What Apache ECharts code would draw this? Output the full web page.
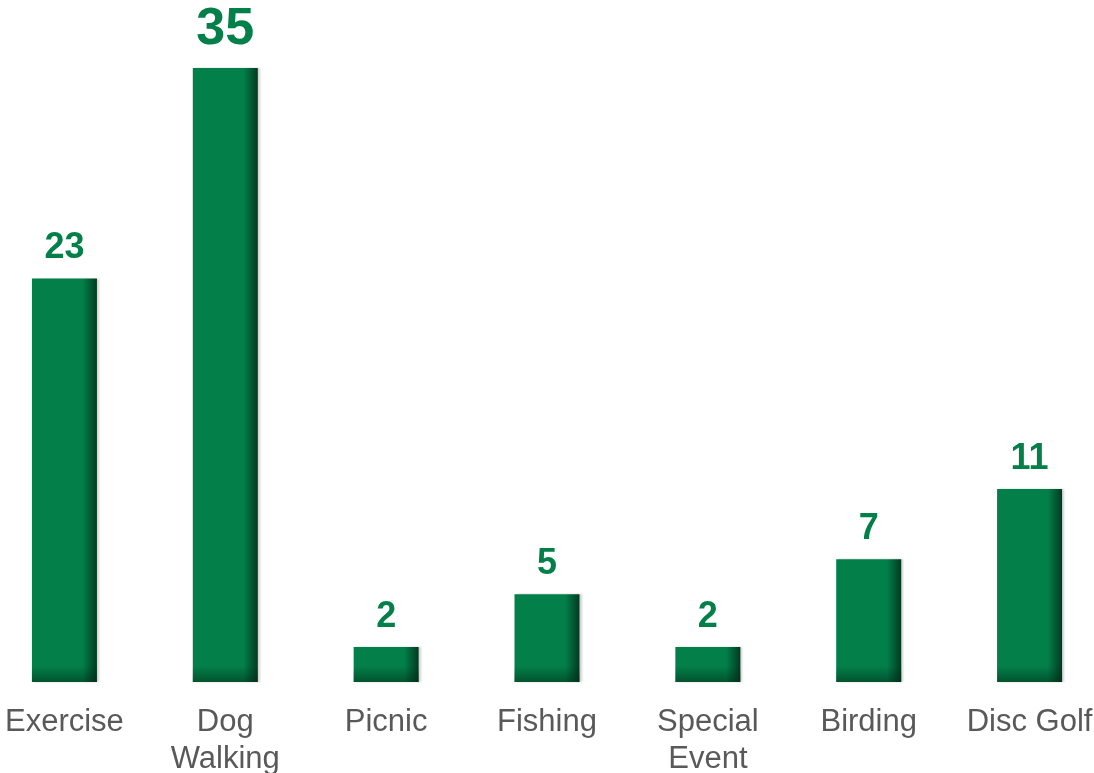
<!DOCTYPE html>
<html>
<head>
<meta charset="utf-8">
<script src="https://cdn.jsdelivr.net/npm/echarts@6/dist/echarts.min.js"></script>
<style>
  html, body { margin: 0; padding: 0; background: #fff; }
  #chart { width: 1094px; height: 773px; }
</style>
</head>
<body>
<div id="chart"></div>
<script>
// Activity categories and their counts
const categories = ['Exercise', 'Dog\nWalking', 'Picnic', 'Fishing', 'Special\nEvent', 'Birding', 'Disc Golf'];
const counts = [23, 35, 2, 5, 2, 7, 11];

const GREEN = '#037F49';
const maxCount = Math.max(...counts);

const chart = echarts.init(document.getElementById('chart'));

// Main bars: flat green with a darker band along the right edge
const barColor = new echarts.graphic.LinearGradient(0, 0, 1, 0, [
  { offset: 0, color: GREEN },
  { offset: 0.78, color: GREEN },
  { offset: 1, color: '#013A21' }
]);

const mainData = counts.map(v => ({
  value: v,
  label: { fontSize: v === maxCount ? 52 : 36 }
}));

// Bottom shading overlay: the dark band keeps a fixed pixel height on every bar
const pxPerUnit = 614 / maxCount;
const shadeData = counts.map(v => {
  const h = v * pxPerUnit;
  const start = Math.max(0, 1 - 16 / h);
  return {
    value: v,
    itemStyle: {
      color: new echarts.graphic.LinearGradient(0, 0, 0, 1, [
        { offset: 0, color: 'rgba(0,40,20,0)' },
        { offset: start, color: 'rgba(0,40,20,0)' },
        { offset: 1, color: 'rgba(0,40,20,0.5)' }
      ])
    }
  };
});

chart.setOption({
  animation: false,
  backgroundColor: '#ffffff',
  grid: {
    left: -16, right: -16, top: 68, bottom: 91,
    containLabel: false,
    outerBoundsMode: 'none'
  },
  xAxis: {
    type: 'category',
    data: categories,
    axisLine: { show: false },
    axisTick: { show: false },
    axisLabel: {
      interval: 0,
      margin: 22,
      color: '#595959',
      fontFamily: 'Liberation Sans, Arial, sans-serif',
      fontSize: 31,
      lineHeight: 37
    }
  },
  yAxis: {
    type: 'value',
    min: 0,
    max: maxCount,
    show: false,
    splitLine: { show: false }
  },
  series: [
    {
      type: 'bar',
      data: mainData,
      barWidth: 65,
      itemStyle: {
        color: barColor,
        shadowColor: 'rgba(0,0,0,0.18)',
        shadowBlur: 2,
        shadowOffsetX: 2
      },
      label: {
        show: true,
        position: 'top',
        distance: 12,
        color: GREEN,
        fontWeight: 'bold',
        fontFamily: 'Liberation Sans, Arial, sans-serif'
      }
    },
    {
      type: 'bar',
      data: shadeData,
      barWidth: 65,
      barGap: '-100%',
      silent: true,
      z: 3
    }
  ]
});
</script>
</body>
</html>
